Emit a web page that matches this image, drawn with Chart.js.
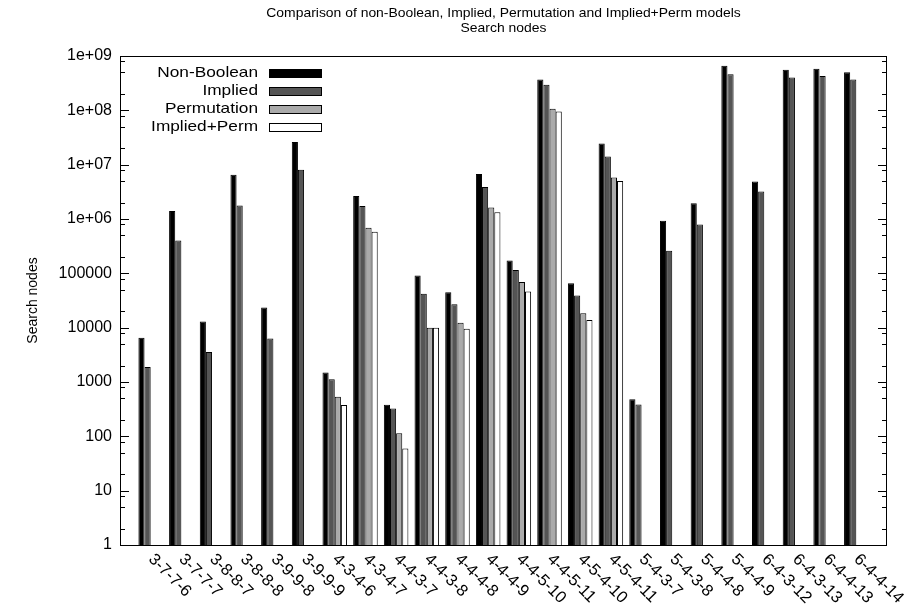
<!DOCTYPE html>
<html><head><meta charset="utf-8">
<script src="https://cdn.jsdelivr.net/npm/chart.js@4/dist/chart.umd.min.js"></script>
<style>html,body{margin:0;padding:0;background:#fff}#wrap{width:914px;height:610px;position:relative}</style>
</head><body><div id="wrap"><canvas id="c" width="914" height="610"></canvas></div>
<script>
const categories = ['3-7-7-6','3-7-7-7','3-8-8-7','3-8-8-8','3-9-9-8','3-9-9-9','4-3-4-6','4-3-4-7','4-4-3-7','4-4-3-8','4-4-4-8','4-4-4-9','4-4-5-10','4-4-5-11','4-5-4-10','4-5-4-11','5-4-3-7','5-4-3-8','5-4-4-8','5-4-4-9','6-4-3-12','6-4-3-13','6-4-4-13','6-4-4-14'];
const nonBoolean  = [6500,1400000,13000,6500000,23500,26000000,1500,2650000,380,91000,45000,6700000,172000,370000000,66000,24500000,480,930000,1940000,660000000,4900000,560000000,580000000,500000000];
const implied     = [1880,400000,3550,1780000,6300,8100000,1120,1740000,324,42000,27000,3900000,115000,295000000,39000,14100000,385,260000,790000,460000000,3200000,400000000,430000000,370000000];
const permutation = [null,null,null,null,null,null,535,690000,114,10000,12300,1630000,69000,107000000,18500,5800000,null,null,null,null,null,null,null,null];
const impliedPerm = [null,null,null,null,null,null,378,580000,60,10000,9600,1330000,46500,95000000,13800,5000000,null,null,null,null,null,null,null,null];
const seriesNames = ['Non-Boolean','Implied','Permutation','Implied+Perm'];
const seriesColors = ['#000000','#555555','#aaaaaa','#ffffff'];
const yTickValues = [1,10,100,1000,10000,100000,1000000,10000000,100000000,1000000000];
const yTickLabels = ['1','10','100','1000','10000','100000','1e+06','1e+07','1e+08','1e+09'];
const yMinorFactors = [2,5,8];
const titleLines = ['Comparison of non-Boolean, Implied, Permutation and Implied+Perm models','Search nodes'];
const yAxisTitle = 'Search nodes';

const FONT = '"Liberation Sans", Arial, Helvetica, sans-serif';
const seriesValues = [nonBoolean, implied, permutation, impliedPerm];

function stretchText(ctx, text, x, y, align, sx){
  ctx.save(); ctx.translate(x,y); ctx.scale(sx,1); ctx.textAlign=align; ctx.fillText(text,0,0); ctx.restore();
}

const decor = {
  id:'decor',
  afterDraw(chart){
    const ctx = chart.ctx, a = chart.chartArea, ys = chart.scales.y, xs = chart.scales.x;
    ctx.save();
    ctx.strokeStyle = '#000'; ctx.lineWidth = 1;
    ctx.strokeRect(Math.round(a.left)+0.5, Math.round(a.top)+0.5, Math.round(a.right-a.left)-1, Math.round(a.bottom-a.top));
    ctx.beginPath();
    yTickValues.forEach((v,i)=>{
      const py = Math.round(ys.getPixelForValue(v))+0.5;
      ctx.moveTo(a.left, py); ctx.lineTo(a.left+9, py);
      ctx.moveTo(a.right, py); ctx.lineTo(a.right-9, py);
      if (i < yTickValues.length-1) yMinorFactors.forEach(f=>{
        const my = Math.round(ys.getPixelForValue(v*f))+0.5;
        ctx.moveTo(a.left, my); ctx.lineTo(a.left+5, my);
        ctx.moveTo(a.right, my); ctx.lineTo(a.right-5, my);
      });
    });
    ctx.stroke();
    ctx.fillStyle = '#000';
    ctx.font = '13px ' + FONT; ctx.textBaseline = 'middle';
    const cx = (a.left + a.right)/2;
    stretchText(ctx, titleLines[0], cx, 13, 'center', 1.07);
    stretchText(ctx, titleLines[1], cx, 28, 'center', 1.07);
    ctx.font = '14px ' + FONT;
    ctx.save(); ctx.translate(33, (a.top+a.bottom)/2); ctx.rotate(-Math.PI/2);
    ctx.textAlign='center'; ctx.fillText(yAxisTitle, 0, 0); ctx.restore();
    ctx.font = '15px ' + FONT;
    seriesNames.forEach((n,k)=>{
      const ry = a.top + 17 + 18*k;
      stretchText(ctx, n, a.left+138, ry, 'right', 1.15);
      ctx.fillStyle = seriesColors[k];
      ctx.fillRect(a.left+149.5, Math.round(ry-4)+0.5, 52, 8);
      ctx.strokeRect(a.left+149.5, Math.round(ry-4)+0.5, 52, 8);
      ctx.fillStyle = '#000';
    });
    ctx.font = '16.5px ' + FONT; ctx.textBaseline = 'alphabetic'; ctx.textAlign='left';
    categories.forEach((c,i)=>{
      const px = xs.getPixelForValue(i);
      ctx.save(); ctx.translate(px-3, a.bottom+15); ctx.rotate(Math.PI/4);
      ctx.fillText(c, 0, 0); ctx.restore();
    });
    ctx.restore();
  }
};

new Chart(document.getElementById('c'), {
  type:'bar',
  data:{ datasets: seriesNames.map((name,k)=>({
    label:name,
    data: seriesValues[k].map((v,i)=>({x:i, y:v})),
    backgroundColor: seriesColors[k], borderColor:'#000', borderWidth:1,
    categoryPercentage:0.8, barPercentage:1.0
  }))},
  options:{
    responsive:false, animation:false, devicePixelRatio:1,
    layout:{padding:{top:56,right:27,left:0,bottom:0}},
    plugins:{legend:{display:false}, title:{display:false}, tooltip:{enabled:false}},
    scales:{
      x:{type:'linear', min:-1, max:24, offset:false, grid:{display:false}, border:{display:false},
         ticks:{display:false}, afterFit(s){ s.height = 65; }},
      y:{type:'logarithmic', min:1, max:1e9, grid:{display:false, drawTicks:false}, border:{display:false},
         afterBuildTicks(s){ s.ticks = yTickValues.map(v=>({value:v})); },
         ticks:{autoSkip:false, padding:8, color:'#000', font:{family:FONT, size:16},
                callback:(v,i)=>yTickLabels[i]},
         afterFit(s){ s.width = 120; }}
    }
  },
  plugins:[decor]
});
</script></body></html>
